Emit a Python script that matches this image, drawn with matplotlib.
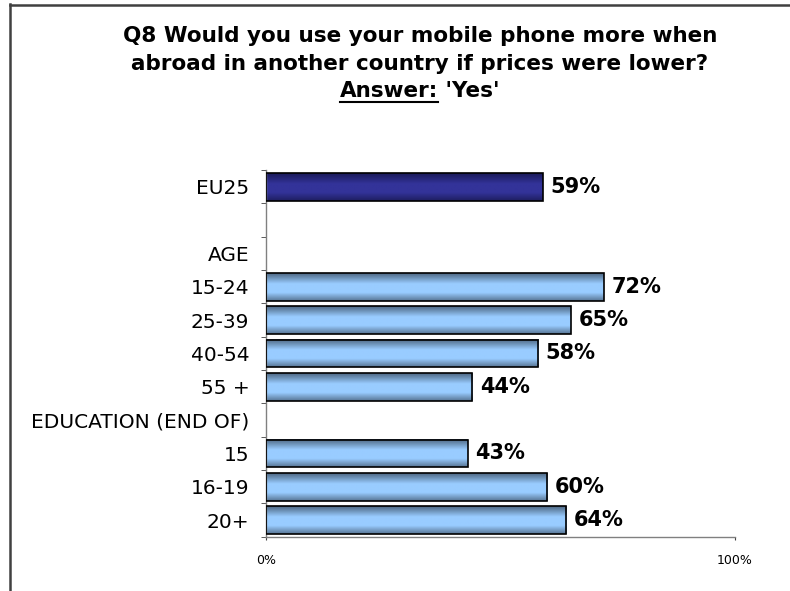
import numpy as np
import matplotlib as mpl
mpl.use("Agg")
from matplotlib import pyplot as plt
from matplotlib.lines import Line2D
from matplotlib.colors import LinearSegmentedColormap

# - survey data (share answering 'Yes', in %)
categories = ["EU25", "", "AGE", "15-24", "25-39", "40-54", "55 +",
              "EDUCATION (END OF)", "15", "16-19", "20+"]
values = [59, None, None, 72, 65, 58, 44, None, 43, 60, 64]
highlight = ["EU25"]

xticks = [0, 100]
xticklabels = ["0%", "100%"]

title_lines = [
    "Q8 Would you use your mobile phone more when",
    "abroad in another country if prices were lower?",
]
answer_key = "Answer:"
answer_val = " 'Yes'"

W, H = 790, 591
fig = plt.figure(figsize=(W/100, H/100), dpi=100)
fig.patch.set_facecolor("white")

# - frame lines (left and top only)
fig.add_artist(Line2D([9.5/W, 9.5/W], [0, 1 - 4.0/H], transform=fig.transFigure,
                      color="#404040", lw=1.8))
fig.add_artist(Line2D([9.5/W, 1], [1 - 4.5/H, 1 - 4.5/H], transform=fig.transFigure,
                      color="#404040", lw=1.8))

ax = fig.add_axes([266/W, 1 - 536.7/H, 469/W, 366.7/H])

# -- bar gradients: darker edges, lighter middle
cmap_light = LinearSegmentedColormap.from_list(
    "light", [(0, "#4d6783"), (0.38, "#99ccff"), (0.7, "#99ccff"), (1, "#587594")])
cmap_dark = LinearSegmentedColormap.from_list(
    "navy", [(0, "#1a1a58"), (0.38, "#333399"), (0.7, "#333399"), (1, "#1e1e60")])
grad = np.linspace(0, 1, 64).reshape(-1, 1)

bar_h = 0.83
for y, (cat, v) in enumerate(zip(categories, values)):
    if v is None:
        continue
    cmap = cmap_dark if cat in highlight else cmap_light
    ax.imshow(grad, cmap=cmap, extent=(0, v, y + bar_h/2, y - bar_h/2),
              aspect="auto", interpolation="bilinear", zorder=2)
    ax.barh(y, v, height=bar_h, fill=False, edgecolor="black", linewidth=1.2, zorder=3)
    ax.annotate(f"{v}%", xy=(v, y), xytext=(5.5, 0), textcoords="offset points",
                ha="left", va="center", fontsize=15, fontweight="bold",
                family="DejaVu Sans", color="black")

ax.set_xlim(0, 100)
ax.set_ylim(len(categories) - 0.5, -0.5)

for s in ["top", "right"]:
    ax.spines[s].set_visible(False)
for s in ["left", "bottom"]:
    ax.spines[s].set_color("#808080")
    ax.spines[s].set_linewidth(1.0)

ax.set_yticks(range(len(categories)))
ax.set_yticklabels(categories, family="DejaVu Sans")
ax.set_yticks(np.arange(-0.5, len(categories), 1), minor=True)
ax.tick_params(axis="y", which="major", length=0, pad=12, labelsize=14.5)
ax.tick_params(axis="y", which="minor", length=3.6, direction="out", color="#404040")

ax.set_xticks(xticks)
ax.set_xticklabels(xticklabels, family="DejaVu Sans")
ax.tick_params(axis="x", length=2.5, pad=10, labelsize=9, color="#404040")

# - title
tkw = dict(fontsize=15.5, fontweight="bold", family="DejaVu Sans", color="black")
cx = 420/W
fig.text(cx, 1 - 42/H, title_lines[0], ha="center", va="baseline", **tkw)
fig.text(cx, 1 - 70/H, title_lines[1], ha="center", va="baseline", **tkw)

renderer = fig.canvas.get_renderer()
t_key = fig.text(0, 1 - 97/H, answer_key, ha="left", va="baseline", **tkw)
t_val = fig.text(0, 1 - 97/H, answer_val, ha="left", va="baseline", **tkw)
w_key = t_key.get_window_extent(renderer).width
w_val = t_val.get_window_extent(renderer).width
x0 = 420 - (w_key + w_val)/2
t_key.set_x(x0/W)
t_val.set_x((x0 + w_key)/W)
fig.add_artist(Line2D([x0/W, (x0 + w_key)/W], [1 - 101.5/H, 1 - 101.5/H],
                      transform=fig.transFigure, color="black", lw=1.5))

fig.savefig("out.png", dpi=100)
plt.close()
